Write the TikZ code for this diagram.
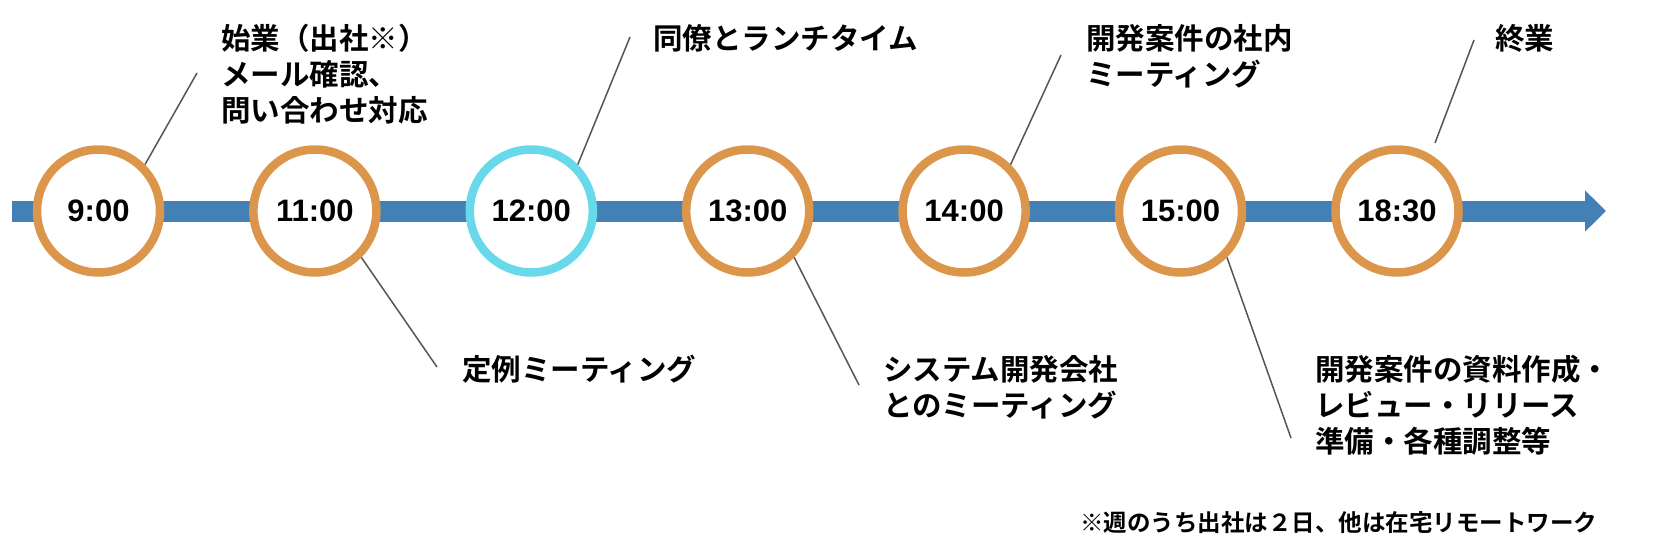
\documentclass[tikz,border=0pt]{standalone}
\usepackage{fontspec}
\setmainfont{Liberation Sans}
\newfontfamily\jp{Noto Sans CJK JP}[BoldFont={Noto Sans CJK JP Bold}]
\usetikzlibrary{arrows.meta,shadows}
\definecolor{barblue}{RGB}{67,128,182}
\definecolor{ringorange}{RGB}{220,150,75}
\definecolor{ringcyan}{RGB}{104,216,235}
\definecolor{linegray}{RGB}{85,85,85}
\tikzset{
  ring/.style={circle, draw=ringorange, fill=white, line width=8.5pt,
    minimum size=123pt, inner sep=0pt,
    font=\fontsize{31}{31}\selectfont\bfseries,
    drop shadow={opacity=0.22, shadow xshift=0pt, shadow yshift=-3pt}},
  ringhi/.style={ring, draw=ringcyan},
  label/.style={anchor=base west, align=left, inner sep=0pt,
    font=\jp\bfseries\fontsize{29.5}{36}\selectfont},
  note/.style={anchor=base west, inner sep=0pt,
    font=\jp\bfseries\fontsize{23.5}{28}\selectfont},
  leader/.style={draw=linegray, line width=1.5pt},
  timebar/.style={draw=barblue, line width=21pt,
    -{Triangle[length=21pt, width=40pt]}}
}
\begin{document}
\begin{tikzpicture}[x=1pt, y=-1pt]
\useasboundingbox (0,0) rectangle (1654,554);
% timeline bar
\coordinate (barstart) at (12,211);
\coordinate (barend) at (1606,211);
\draw[timebar] (barstart) -- (barend);
% time circles
\node[ring]   (t1) at (98.5,211)  {9:00};
\node[ring]   (t2) at (314.9,211) {11:00};
\node[ringhi] (t3) at (531.3,211) {12:00};
\node[ring]   (t4) at (747.7,211) {13:00};
\node[ring]   (t5) at (964.1,211) {14:00};
\node[ring]   (t6) at (1180.5,211){15:00};
\node[ring]   (t7) at (1397,211)  {18:30};
% leader line free ends
\coordinate (e1) at (197,73);
\coordinate (e2) at (437,367);
\coordinate (e3) at (630,37);
\coordinate (e4) at (859,385);
\coordinate (e5) at (1061,55);
\coordinate (e6) at (1291,438);
\coordinate (e7) at (1474,40);
\coordinate (s7) at (1435,143);
\draw[leader] (t1.45) -- (e1);
\draw[leader] (t2.-45) -- (e2);
\draw[leader] (t3.45) -- (e3);
\draw[leader] (t4.-45) -- (e4);
\draw[leader] (t5.45) -- (e5);
\draw[leader] (t6.-45) -- (e6);
\draw[leader] (s7) -- (e7);
% labels (anchored at the baseline of their last line)
\node[label] (l1) at (221,121) {始業（出社※）\\メール確認、\\問い合わせ対応};
\node[label] (l2) at (462,380) {定例ミーティング};
\node[label] (l3) at (653,49) {同僚とランチタイム};
\node[label] (l4) at (883,416) {システム開発会社\\とのミーティング};
\node[label] (l5) at (1086,85) {開発案件の社内\\ミーティング};
\node[label] (l6) at (1315,452) {開発案件の資料作成・\\レビュー・リリース\\準備・各種調整等};
\node[label] (l7) at (1495,49) {終業};
\node[note] (fn) at (1080,531) {※週のうち出社は２日、他は在宅リモートワーク};
\end{tikzpicture}
\end{document}
